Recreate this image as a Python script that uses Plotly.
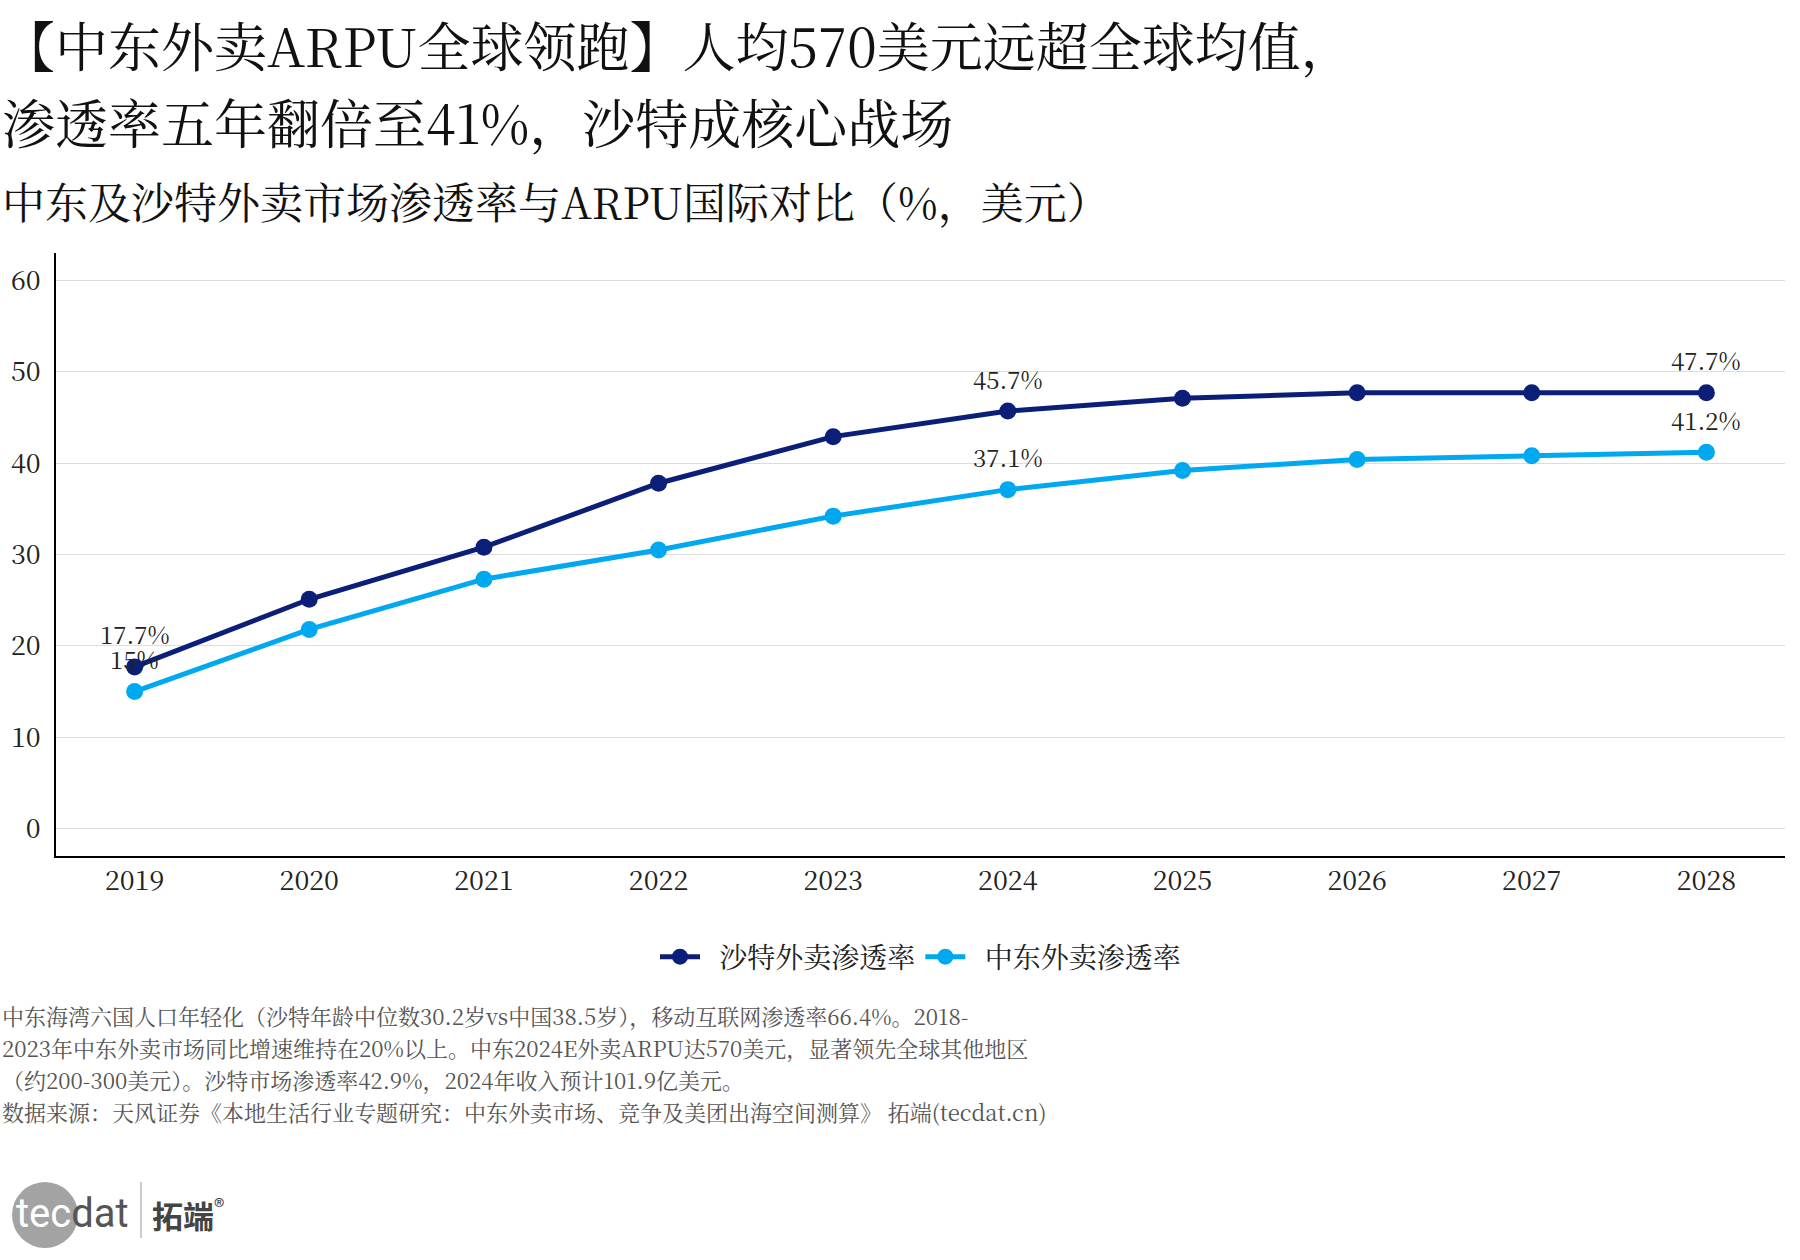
import plotly.graph_objects as go

# ---------------- data ----------------
years = ["2019", "2020", "2021", "2022", "2023", "2024", "2025", "2026", "2027", "2028"]
saudi_pen = [17.7, 25.1, 30.8, 37.8, 42.9, 45.7, 47.1, 47.7, 47.7, 47.7]
me_pen = [15.0, 21.8, 27.3, 30.5, 34.2, 37.1, 39.2, 40.4, 40.8, 41.2]
label_years = ["2019", "2024", "2028"]
y_ticks = [0, 10, 20, 30, 40, 50, 60]

series_names = ["沙特外卖渗透率", "中东外卖渗透率"]
colors = ["#0b1f78", "#00a8ef"]

title_lines = ["【中东外卖ARPU全球领跑】人均570美元远超全球均值，",
               "渗透率五年翻倍至41%，沙特成核心战场"]
subtitle = "中东及沙特外卖市场渗透率与ARPU国际对比（%，美元）"
notes = [
    "中东海湾六国人口年轻化（沙特年龄中位数30.2岁vs中国38.5岁），移动互联网渗透率66.4%。2018-",
    "2023年中东外卖市场同比增速维持在20%以上。中东2024E外卖ARPU达570美元，显著领先全球其他地区",
    "（约200-300美元）。沙特市场渗透率42.9%，2024年收入预计101.9亿美元。",
    "数据来源：天风证券《本地生活行业专题研究：中东外卖市场、竞争及美团出海空间测算》 拓端(tecdat.cn)",
]

FONT = "SimSun, 'Noto Serif CJK SC', 'Source Han Serif SC', 'AR PL UMing CN', serif"

W, H = 1800, 1260
L, R, T, B = 56, 15, 253, 404
PW, PH = W - L - R, H - T - B


def px(x):
    return (x - L) / PW


def py(y):
    return (H - B - y) / PH


def fmt(v):
    s = f"{v:.1f}"
    if s.endswith(".0"):
        s = s[:-2]
    return s + "%"


fig = go.Figure()
for name, vals, c in zip(series_names, [saudi_pen, me_pen], colors):
    fig.add_trace(go.Scatter(
        x=years, y=vals, name="  " + name, mode="lines+markers",
        line=dict(color=c, width=5),
        marker=dict(color=c, size=17),
    ))

annotations = []
for vals in [saudi_pen, me_pen]:
    for yr in label_years:
        i = years.index(yr)
        annotations.append(dict(
            x=i, y=vals[i], xref="x", yref="y", text=fmt(vals[i]),
            showarrow=False, yshift=33, yanchor="middle",
            font=dict(family=FONT, size=24, color="#222"),
        ))

# titles
annotations.append(dict(x=px(0), y=py(44), xref="paper", yref="paper", xanchor="left", yanchor="middle",
                        text=title_lines[0], showarrow=False, font=dict(family=FONT, size=53, color="#111")))
annotations.append(dict(x=px(0), y=py(121), xref="paper", yref="paper", xanchor="left", yanchor="middle",
                        text=title_lines[1], showarrow=False, font=dict(family=FONT, size=53, color="#111")))
annotations.append(dict(x=px(0), y=py(201), xref="paper", yref="paper", xanchor="left", yanchor="middle",
                        text=subtitle, showarrow=False, font=dict(family=FONT, size=43, color="#111")))

for k, line in enumerate(notes):
    annotations.append(dict(x=px(0), y=py(1015 + 32 * k), xref="paper", yref="paper", xanchor="left",
                            yanchor="middle", text=line, showarrow=False,
                            font=dict(family=FONT, size=22, color="#555")))

# logo
annotations.append(dict(x=px(14), y=py(1213), xref="paper", yref="paper", xanchor="left", yanchor="middle",
                        text="<span style='color:#ffffff'>tec</span><span style='color:#555555'>dat</span>",
                        showarrow=False, font=dict(family="Roboto", size=40)))
annotations.append(dict(x=px(150), y=py(1213), xref="paper", yref="paper", xanchor="left", yanchor="middle",
                        text="<b>拓端</b><sup>®</sup>", showarrow=False,
                        font=dict(family="Noto Sans CJK SC", size=31, color="#444")))

shapes = [
    dict(type="circle", xref="paper", yref="paper", x0=px(12), x1=px(78), y0=py(1248), y1=py(1182),
         fillcolor="#a3a3a3", line=dict(width=0), layer="below"),
    dict(type="line", xref="paper", yref="paper", x0=px(141), x1=px(141), y0=py(1182), y1=py(1238),
         line=dict(color="#cccccc", width=2)),
]

fig.update_layout(
    width=W, height=H,
    margin=dict(l=L, r=R, t=T, b=B),
    paper_bgcolor="white", plot_bgcolor="white",
    font=dict(family=FONT, color="#222"),
    showlegend=True,
    legend=dict(orientation="h", x=0.5, xanchor="center", y=py(957), yanchor="middle",
                font=dict(family=FONT, size=28, color="#222"), itemwidth=40, tracegroupgap=0),
    annotations=annotations,
    shapes=shapes,
    xaxis=dict(type="category", range=[-0.45, 9.45], showgrid=False, showline=True, linecolor="#000",
               linewidth=2, ticks="", tickfont=dict(family=FONT, size=27, color="#222"), zeroline=False),
    yaxis=dict(range=[-3, 63], tickvals=y_ticks, showgrid=True, gridcolor="#dcdcdc", gridwidth=1,
               showline=True, linecolor="#000", linewidth=2, ticks="", zeroline=False,
               tickfont=dict(family=FONT, size=27, color="#222"), ticklabelstandoff=8),
)

fig.write_html("out.html")
